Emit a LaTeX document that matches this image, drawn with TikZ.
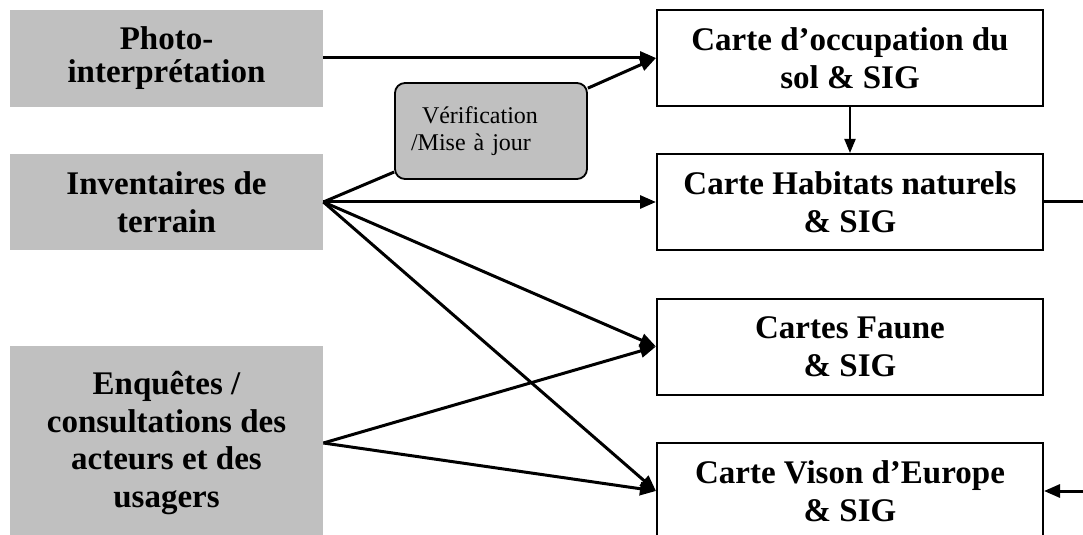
\documentclass[tikz,border=0pt]{standalone}
\usepackage{fontspec}
\setmainfont{Liberation Serif}
\usepackage{tikz}
\usetikzlibrary{arrows.meta,positioning}
\definecolor{Shade}{HTML}{C0C0C0}
\tikzset{
  flowarrow/.style={-{Triangle[length=8pt,width=6.5pt]},line width=1.5pt,draw=black},
  thinflow/.style={-{Triangle[length=7pt,width=5.5pt]},line width=1pt,draw=black},
  plainline/.style={line width=1.5pt,draw=black},
  srcbox/.style={rectangle,fill=Shade,draw=none,minimum width=156.5pt,align=center,
    font=\fontsize{16.5}{18.8}\selectfont\bfseries},
  mapbox/.style={rectangle,fill=white,draw=black,line width=1pt,minimum width=193pt,
    minimum height=48pt,align=center,font=\fontsize{16.5}{19}\selectfont\bfseries},
  checkbox/.style={rectangle,rounded corners=5pt,fill=Shade,draw=black,line width=0.9pt,
    minimum width=96pt,minimum height=48pt,text width=80pt,inner xsep=8pt,align=left,
    font=\fontsize{12}{13.8}\selectfont},
}
\begin{document}
\begin{tikzpicture}[x=0.5pt,y={(0pt,-0.5pt)}]
    \useasboundingbox (0,0) rectangle (1083,535);

    % sources
    \node[srcbox,minimum height=48.5pt,font=\fontsize{16.5}{16.5}\selectfont\bfseries] (photo) at (166.5,58.5) {Photo-\\interprétation};
    \node[srcbox,minimum height=48pt] (invent) at (166.5,202) {Inventaires de\\terrain};
    \node[srcbox,minimum height=97pt] (enquete) at (166.5,443) {Enquêtes /\\consultations des\\acteurs et des\\usagers};

    \node[checkbox] (verif) at (491,131) {\hspace*{5.5pt}Vérification\\/Mise à jour};

    % maps
    \node[mapbox] (occup) at (850,58) {Carte d’occupation du\\sol \& SIG};
    \node[mapbox] (habitat) at (850,202) {Carte Habitats naturels\\\& SIG};
    \node[mapbox] (faune) at (850,346.5) {Cartes Faune\\\& SIG};
    \node[mapbox] (vison) at (850,491) {Carte Vison d’Europe\\\& SIG};

    \coordinate (habout) at (1083,202);
    \coordinate (visin) at (1083,491);

    \draw[flowarrow] (photo.east |- occup.west) -- (occup.west);
    \draw[plainline] (invent.east) -- (verif);
    \draw[flowarrow] (verif) -- (occup.west);
    \draw[flowarrow] (invent.east) -- (habitat.west);
    \draw[flowarrow] (invent.east) -- (faune.west);
    \draw[flowarrow] (invent.east) -- (vison.west);
    \draw[flowarrow] (enquete.east) -- (faune.west);
    \draw[flowarrow] (enquete.east) -- (vison.west);
    \draw[thinflow] (occup.south) -- (habitat.north);
    \draw[plainline] (habitat.east) -- (habout);
    \draw[flowarrow] (visin) -- (vison.east);
  \end{tikzpicture}
\end{document}
